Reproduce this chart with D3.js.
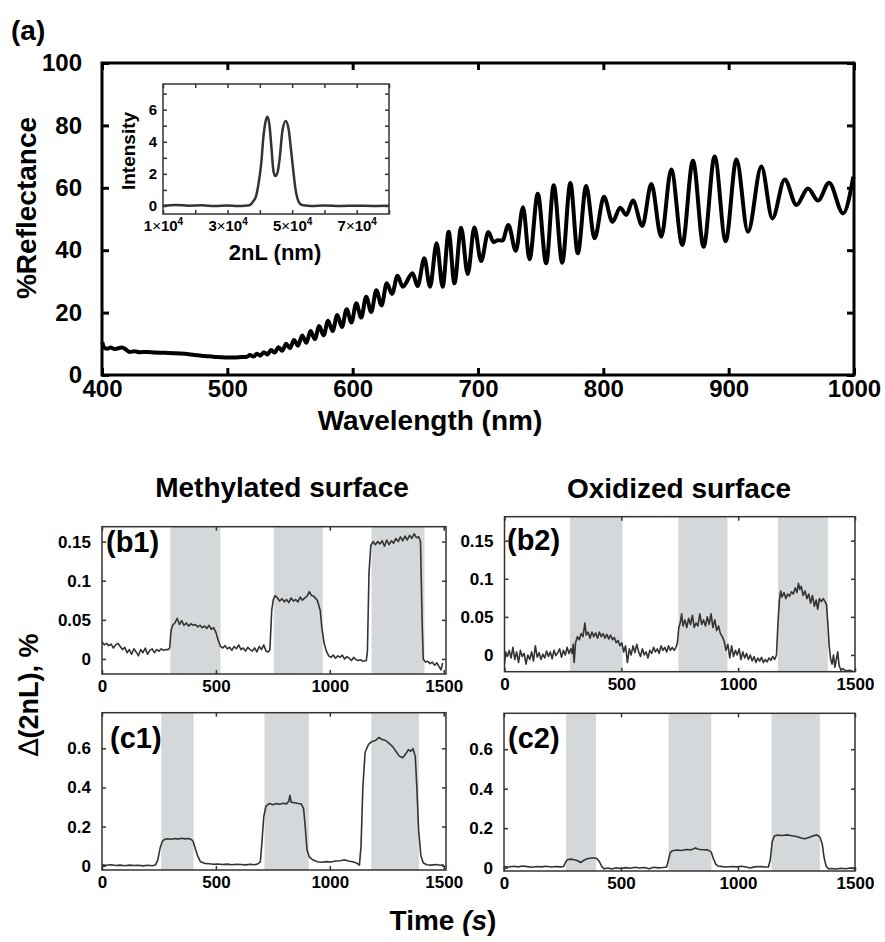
<!DOCTYPE html>
<html>
<head>
<meta charset="utf-8">
<script src="https://cdn.jsdelivr.net/npm/d3@7"></script>
<style>
  body { margin: 0; background: #fff; }
  svg { display: block; font-family: "Liberation Sans", Arial, sans-serif; font-weight: bold; }
</style>
</head>
<body>
<svg id="fig" width="885" height="942"></svg>
<script>
// ---- data ----
// (a) reflectance spectrum: [wavelength nm, %R] at the fringe extremes
const reflectance = [
  [400.3, 10.5], [401.5, 8.9], [404, 8.4], [407, 8.8], [410, 8.3], [413, 8.6], [416, 8.8], [419, 8.2],
  [422, 7.4], [426, 7.6], [430, 7.3], [436, 7.4], [442, 7.2], [450, 7.1], [458, 7.0], [466, 6.8],
  [474, 6.4], [482, 6.1], [490, 5.8], [498, 5.6], [506, 5.6], [512, 5.8], [515.3, 5.8], [518, 6.4],
  [520.8, 5.9], [523.5, 6.8], [526.3, 6.2], [529.1, 7.3], [532, 6.6], [534.9, 8.0], [537.8, 7.2],
  [540.8, 8.9], [543.8, 7.8], [546.9, 10.0], [550, 8.6], [553.2, 11.2], [556.4, 9.4], [559.7, 12.7],
  [563, 10.3], [566.4, 14.1], [569.8, 11.5], [573.3, 15.7], [576.8, 12.7], [580.4, 17.4], [584, 14.1],
  [587.7, 19.2], [591.4, 15.4], [595.2, 21.1], [599, 16.8], [602.9, 23.0], [606.8, 18.4], [610.8, 25.1],
  [614.8, 20.2], [618.9, 27.2], [623, 22.3], [627.2, 29.4], [631.4, 26.0], [635.8, 31.8], [639.9, 28.3],
  [647.8, 32.6], [651.8, 28.5], [657.2, 37.4], [661.7, 28.3], [667.0, 42.2], [671.8, 28.3], [676.6, 45.9],
  [681.2, 29.4], [686.5, 47.2], [691.8, 32.4], [697.1, 47.3], [702.5, 36.5], [708.2, 45.8], [712.5, 42.6],
  [716, 43.2], [719.5, 43.1], [724.2, 48.1], [730.2, 39.8], [735.9, 53.8], [741.1, 37.1], [747.7, 58.1],
  [754.4, 35.8], [760.4, 60.8], [767.2, 36.0], [773.7, 61.5], [779.6, 39.0], [786.3, 60.6], [793.0, 43.8],
  [800.5, 57.1], [807.3, 49.1], [813.5, 53.6], [818.3, 51.3], [823.6, 55.9], [831.1, 47.8], [838.3, 61.2],
  [846.2, 44.3], [854.2, 65.9], [863.0, 41.7], [871.5, 68.7], [880.0, 41.1], [888.8, 70.0], [897.6, 42.9],
  [906.2, 69.1], [915.4, 45.9], [926.1, 66.8], [934.9, 50.2], [944.7, 62.7], [954.1, 54.5], [963.3, 59.8],
  [971.3, 55.9], [980.1, 61.6], [991.3, 51.8], [999.5, 63.6]
];
const wlTicks = [400, 500, 600, 700, 800, 900, 1000];
const reflTicks = [0, 20, 40, 60, 80, 100];

// inset: FFT intensity vs 2nL
const fft = [
  [10000, 0.02], [14000, 0.06], [18000, 0.02], [22000, 0.04], [26000, 0.0], [30000, 0.03], [33000, 0.0],
  [35500, 0.02], [36800, 0.05], [38000, 0.3], [38800, 0.6], [39600, 1.4], [40400, 2.6], [41100, 4.3],
  [41800, 5.3], [42400, 5.56], [43000, 5.0], [43600, 3.6], [44200, 2.2], [44800, 1.86], [45500, 2.1],
  [46100, 2.9], [47000, 4.7], [48000, 5.3], [48900, 4.8], [49600, 3.6], [50300, 2.3], [51000, 1.1],
  [51600, 0.5], [52400, 0.15], [53500, 0.04], [56000, 0.0], [60000, 0.03], [65000, 0.0], [70000, 0.02],
  [75000, 0.0], [80000, 0.01]
];
const fftXTicks = [10000, 20000, 30000, 40000, 50000, 60000, 70000, 80000];
const fftXLabels = [10000, 30000, 50000, 70000];
const fftYTicks = [0, 1, 2, 3, 4, 5, 6, 7];
const fftYLabels = [0, 2, 4, 6];

// time traces: [t s, Δ(2nL) %]
const b1Trace = [
  [0,0.022],[10,0.018],[20,0.020],[30,0.017],[40,0.019],[50,0.014],[60,0.018],[70,0.020],[80,0.016],[90,0.012],
  [100,0.015],[110,0.008],[120,0.012],[130,0.006],[140,0.013],[150,0.009],[160,0.004],[170,0.012],[180,0.008],
  [190,0.014],[200,0.006],[210,0.011],[220,0.013],[230,0.008],[240,0.012],[250,0.010],[260,0.013],[270,0.011],
  [280,0.012],[290,0.012],[297,0.014],[303,0.036],[310,0.043],[320,0.046],[330,0.052],[340,0.044],[350,0.049],
  [360,0.043],[370,0.046],[380,0.042],[390,0.045],[400,0.043],[410,0.044],[420,0.041],[430,0.043],[440,0.040],
  [450,0.042],[460,0.039],[470,0.043],[480,0.038],[490,0.040],[500,0.034],[510,0.024],[520,0.016],[530,0.014],
  [540,0.017],[550,0.013],[560,0.015],[570,0.011],[580,0.016],[590,0.013],[600,0.018],[610,0.012],[620,0.014],
  [630,0.010],[640,0.015],[650,0.012],[660,0.010],[670,0.014],[680,0.009],[690,0.016],[700,0.012],[710,0.018],
  [720,0.010],[730,0.009],[737,0.012],[745,0.062],[752,0.076],[760,0.081],[770,0.078],[780,0.074],[790,0.077],
  [800,0.073],[810,0.076],[820,0.072],[830,0.078],[840,0.074],[850,0.076],[860,0.073],[870,0.079],[880,0.075],
  [890,0.078],[900,0.080],[910,0.086],[920,0.081],[930,0.080],[945,0.075],[958,0.062],[965,0.040],[975,0.020],
  [985,0.010],[995,0.004],[1005,0.002],[1015,0.005],[1025,0.001],[1035,0.004],[1045,0.002],[1055,0.005],
  [1065,0.000],[1075,0.003],[1085,0.001],[1095,-0.002],[1105,0.002],[1115,-0.001],[1125,-0.002],[1135,-0.001],
  [1145,-0.003],[1160,-0.002],[1165,0.010],[1172,0.110],[1180,0.145],[1190,0.150],[1200,0.146],[1210,0.150],
  [1220,0.147],[1230,0.151],[1240,0.144],[1250,0.152],[1260,0.146],[1270,0.151],[1280,0.148],[1290,0.154],
  [1300,0.150],[1310,0.156],[1320,0.151],[1330,0.157],[1340,0.152],[1350,0.158],[1360,0.154],[1370,0.160],
  [1380,0.155],[1390,0.156],[1398,0.150],[1405,0.050],[1410,0.000],[1420,-0.004],[1430,-0.003],[1440,-0.006],
  [1450,-0.004],[1460,-0.008],[1470,-0.005],[1480,-0.010],[1488,-0.014],[1495,-0.005]
];
const b2Trace = [
  [0,-0.012],[5,0.004],[12,-0.002],[20,0.006],[28,-0.004],[36,0.010],[44,-0.006],[52,0.004],[60,-0.010],
  [68,0.006],[76,-0.002],[84,0.002],[92,-0.012],[100,0.000],[108,-0.006],[116,0.004],[124,-0.008],[132,0.012],
  [140,-0.003],[148,0.003],[156,-0.006],[164,0.001],[172,-0.004],[180,0.005],[188,-0.002],[196,0.004],
  [204,-0.005],[212,0.006],[220,-0.001],[228,0.003],[236,0.008],[244,-0.003],[252,0.006],[260,0.000],
  [268,0.010],[276,0.002],[284,0.008],[290,0.002],[294,0.014],[298,-0.010],[304,0.016],[312,0.024],
  [320,0.020],[328,0.028],[336,0.024],[344,0.042],[350,0.026],[358,0.030],[366,0.022],[374,0.030],
  [382,0.024],[390,0.029],[398,0.022],[406,0.030],[414,0.024],[422,0.028],[430,0.022],[438,0.027],
  [446,0.021],[454,0.026],[462,0.020],[470,0.023],[478,0.016],[486,0.019],[494,0.012],[502,0.016],
  [510,0.004],[518,0.012],[526,-0.010],[534,0.008],[542,0.000],[550,0.012],[558,0.003],[566,0.014],
  [574,0.004],[582,-0.002],[590,0.008],[598,0.000],[606,0.004],[614,-0.004],[622,0.006],[630,0.002],
  [638,0.010],[646,0.004],[654,0.008],[662,0.002],[670,0.012],[678,0.006],[686,0.010],[694,0.004],
  [702,0.012],[710,0.006],[718,0.010],[726,0.006],[734,0.010],[740,0.016],[746,0.036],[752,0.042],
  [758,0.054],[764,0.038],[772,0.046],[780,0.036],[788,0.048],[796,0.040],[804,0.052],[812,0.036],
  [820,0.042],[828,0.038],[836,0.054],[844,0.040],[852,0.046],[860,0.038],[868,0.050],[876,0.040],
  [884,0.054],[892,0.036],[900,0.046],[908,0.032],[916,0.038],[924,0.028],[932,0.024],[940,0.018],
  [948,0.006],[956,0.014],[964,-0.004],[972,0.012],[980,-0.002],[988,0.006],[996,0.000],[1004,0.008],
  [1012,-0.006],[1020,0.004],[1028,-0.004],[1036,0.002],[1044,-0.006],[1052,0.000],[1060,-0.008],
  [1068,-0.002],[1076,-0.010],[1084,-0.004],[1092,-0.008],[1100,-0.003],[1108,-0.010],[1116,-0.006],
  [1124,-0.009],[1132,-0.004],[1140,-0.007],[1148,-0.002],[1156,-0.006],[1164,0.000],[1170,0.040],
  [1176,0.070],[1182,0.084],[1188,0.076],[1196,0.082],[1204,0.074],[1212,0.080],[1220,0.077],[1228,0.083],
  [1236,0.080],[1244,0.088],[1252,0.082],[1258,0.094],[1264,0.086],[1270,0.090],[1278,0.078],[1286,0.084],
  [1294,0.074],[1302,0.080],[1310,0.068],[1318,0.078],[1326,0.064],[1334,0.072],[1340,0.060],[1348,0.074],
  [1356,0.070],[1364,0.074],[1372,0.070],[1378,0.066],[1384,0.040],[1390,0.010],[1396,-0.006],[1402,-0.012],
  [1408,0.000],[1414,-0.016],[1420,-0.006],[1426,0.004],[1432,-0.014],[1440,-0.020],[1448,-0.018],
  [1460,-0.021],[1475,-0.020],[1490,-0.021]
];
const c1Trace = [
  [0,0.004],[20,0.002],[40,0.005],[60,0.001],[80,0.003],[100,0.000],[120,0.003],[140,0.001],[160,0.002],
  [180,-0.001],[200,0.002],[220,0.000],[235,0.004],[245,0.030],[255,0.090],[265,0.125],[275,0.135],
  [290,0.138],[305,0.135],[320,0.139],[335,0.136],[350,0.140],[365,0.137],[380,0.139],[392,0.134],
  [400,0.125],[410,0.085],[420,0.050],[432,0.020],[450,0.012],[470,0.010],[490,0.007],[510,0.009],
  [530,0.006],[550,0.008],[570,0.005],[590,0.007],[610,0.006],[630,0.004],[650,0.007],[670,0.005],
  [685,0.010],[695,0.020],[702,0.120],[710,0.250],[720,0.305],[735,0.318],[750,0.312],[765,0.318],
  [780,0.314],[795,0.319],[810,0.316],[820,0.330],[825,0.360],[830,0.325],[845,0.322],[860,0.318],
  [875,0.315],[885,0.290],[892,0.200],[900,0.080],[910,0.045],[925,0.030],[945,0.020],[965,0.018],
  [985,0.021],[1005,0.019],[1025,0.024],[1045,0.025],[1065,0.030],[1080,0.024],[1100,0.020],[1120,0.012],
  [1130,0.003],[1137,0.100],[1145,0.400],[1155,0.580],[1170,0.620],[1185,0.635],[1200,0.640],[1215,0.655],
  [1230,0.645],[1245,0.640],[1260,0.625],[1275,0.610],[1290,0.585],[1305,0.560],[1320,0.552],[1335,0.575],
  [1345,0.593],[1355,0.585],[1365,0.598],[1375,0.560],[1382,0.400],[1390,0.180],[1400,0.050],[1410,0.015],
  [1425,0.005],[1445,0.003],[1465,0.006],[1485,0.002],[1500,0.004]
];
const c2Trace = [
  [0,0.006],[20,0.003],[40,0.007],[60,0.004],[80,0.008],[100,0.005],[120,0.002],[140,0.006],[160,0.004],
  [180,0.007],[200,0.003],[220,0.006],[240,0.004],[255,0.006],[262,0.025],[270,0.040],[285,0.043],
  [300,0.040],[315,0.035],[327,0.026],[340,0.036],[355,0.045],[370,0.048],[385,0.050],[398,0.045],
  [408,0.030],[418,0.005],[428,-0.006],[445,-0.002],[460,-0.007],[480,-0.001],[500,-0.004],[520,0.000],
  [540,-0.003],[560,0.002],[580,-0.002],[600,0.001],[620,-0.006],[640,0.002],[660,-0.001],[680,0.001],
  [695,0.003],[702,0.035],[710,0.075],[720,0.086],[740,0.089],[760,0.087],[780,0.092],[800,0.090],
  [818,0.100],[830,0.093],[850,0.091],[870,0.090],[885,0.080],[895,0.045],[905,0.018],[915,0.008],
  [935,0.005],[955,0.003],[975,0.006],[995,0.004],[1015,0.007],[1035,0.003],[1052,-0.002],[1070,0.004],
  [1090,0.006],[1110,0.004],[1130,0.003],[1138,0.040],[1146,0.130],[1155,0.160],[1170,0.165],[1190,0.163],
  [1210,0.166],[1230,0.162],[1250,0.158],[1270,0.150],[1285,0.146],[1300,0.152],[1320,0.160],[1337,0.166],
  [1350,0.155],[1360,0.120],[1368,0.050],[1376,0.010],[1386,-0.006],[1400,-0.004],[1420,-0.007],
  [1440,-0.003],[1460,-0.006],[1480,-0.002],[1500,-0.005]
];
// grey bands (s) while the vapour is on
const b1Bands = [[300, 520], [754, 969], [1183, 1416]];
const b2Bands = [[280, 505], [744, 954], [1170, 1384]];
const c1Bands = [[260, 402], [713, 908], [1182, 1391]];
const c2Bands = [[265, 393], [703, 886], [1143, 1350]];
const timeTicks = [0, 500, 1000, 1500];
const bTicks = [0, 0.05, 0.1, 0.15];
const cTicks = [0, 0.2, 0.4, 0.6];

const svg = d3.select('#fig');

// inward ticks on all four sides, labels only bottom/left
function frameAxes(g, x, y, o) {
  const [x0, x1] = x.range(), [y0, y1] = y.range();
  g.append('g').attr('transform', `translate(0,${y0})`)
    .call(d3.axisBottom(x).tickValues(o.xTicks).tickSize(-o.tick).tickPadding(o.xPad)
      .tickFormat(o.xFmt || (d => d)));
  g.append('g').attr('transform', `translate(0,${y1})`)
    .call(d3.axisTop(x).tickValues(o.xTicks).tickSize(-o.tick).tickFormat(''));
  g.append('g').attr('transform', `translate(${x0},0)`)
    .call(d3.axisLeft(y).tickValues(o.yTicks).tickSize(-o.tick).tickPadding(o.yPad)
      .tickFormat(o.yFmt || (d => d)));
  g.append('g').attr('transform', `translate(${x1},0)`)
    .call(d3.axisRight(y).tickValues(o.yTicks).tickSize(-o.tick).tickFormat(''));
  g.selectAll('.domain').remove();
  g.selectAll('.tick line').attr('stroke', o.color).attr('stroke-width', o.tickW);
  g.selectAll('.tick text').attr('fill', '#000').attr('font-size', o.fs)
    .attr('font-family', '"Liberation Sans", Arial, sans-serif').attr('font-weight', 'bold');
  g.append('rect')
    .attr('x', x0).attr('y', y1).attr('width', x1 - x0).attr('height', y0 - y1)
    .attr('fill', 'none').attr('stroke', o.color).attr('stroke-width', o.frameW);
}

// ---- (a) main spectrum ----
const mx = d3.scaleLinear().domain([400, 1000]).range([102, 854]);
const my = d3.scaleLinear().domain([0, 100]).range([375, 63]);
const gMain = svg.append('g');
frameAxes(gMain, mx, my, {xTicks: wlTicks, yTicks: reflTicks, tick: 7, tickW: 3, xPad: 5, yPad: 20,
  fs: 24, color: '#000', frameW: 3});
gMain.append('path')
  .datum(reflectance)
  .attr('fill', 'none').attr('stroke', '#000').attr('stroke-width', 4).attr('stroke-linejoin', 'round')
  .attr('d', d3.line().x(d => mx(d[0])).y(d => my(d[1])).curve(d3.curveMonotoneX));

svg.append('text').attr('x', 11).attr('y', 40).attr('font-size', 28).text('(a)');
svg.append('text').attr('transform', 'translate(36,208) rotate(-90)')
  .attr('text-anchor', 'middle').attr('font-size', 28).text('%Reflectance');
svg.append('text').attr('x', 430).attr('y', 430)
  .attr('text-anchor', 'middle').attr('font-size', 28).text('Wavelength (nm)');

// ---- inset ----
const ix = d3.scaleLinear().domain([10000, 80000]).range([163, 389]);
const iy = d3.scaleLinear().domain([-0.5, 7.6]).range([214, 84]);
const gIn = svg.append('g');
gIn.append('rect').attr('x', 163).attr('y', 84).attr('width', 226).attr('height', 130).attr('fill', '#fff');
frameAxes(gIn, ix, iy, {xTicks: fftXTicks, yTicks: fftYTicks, tick: 4, tickW: 1.5, xPad: 6, yPad: 6,
  fs: 15, color: '#333', frameW: 1.5,
  xFmt: d => fftXLabels.includes(d) ? d : '',
  yFmt: d => fftYLabels.includes(d) ? d : ''});
// 1x10^4 style labels
gIn.selectAll('.tick text').filter(function (d) { return d >= 10000 && d3.select(this).text() !== ''; })
  .each(function (d) {
    const t = d3.select(this).text(null);
    t.append('tspan').text(d / 10000);
    t.append('tspan').attr('font-weight', 'normal').text('×');
    t.append('tspan').text('10');
    t.append('tspan').attr('font-size', 10).attr('dy', '-0.6em').text('4');
  });
gIn.append('path')
  .datum(fft)
  .attr('fill', 'none').attr('stroke', '#333').attr('stroke-width', 2.5)
  .attr('d', d3.line().x(d => ix(d[0])).y(d => iy(d[1])).curve(d3.curveMonotoneX));
svg.append('text').attr('transform', 'translate(135,151) rotate(-90)')
  .attr('text-anchor', 'middle').attr('font-size', 19).text('Intensity');
svg.append('text').attr('x', 275).attr('y', 260)
  .attr('text-anchor', 'middle').attr('font-size', 22).text('2nL (nm)');

// ---- time-trace panels ----
const panels = [
  {id: 'b1', trace: b1Trace, bands: b1Bands, ticks: bTicks, x: [0, 1510], xr: [102, 446],
   y: [-0.0192, 0.169], yr: [674, 526.7], lx: 106, ly: 552},
  {id: 'b2', trace: b2Trace, bands: b2Bands, ticks: bTicks, x: [0, 1500], xr: [504.5, 855],
   y: [-0.022, 0.1815], yr: [671.7, 516.7], lx: 507, ly: 550},
  {id: 'c1', trace: c1Trace, bands: c1Bands, ticks: cTicks, x: [0, 1510], xr: [102, 446],
   y: [-0.022, 0.782], yr: [870, 712.7], lx: 110, ly: 748},
  {id: 'c2', trace: c2Trace, bands: c2Bands, ticks: cTicks, x: [0, 1500], xr: [504, 855],
   y: [-0.017, 0.782], yr: [871, 713.3], lx: 508, ly: 748}
];

panels.forEach(p => {
  const x = d3.scaleLinear().domain(p.x).range(p.xr);
  const y = d3.scaleLinear().domain(p.y).range(p.yr);
  const g = svg.append('g');
  g.append('clipPath').attr('id', 'clip-' + p.id).append('rect')
    .attr('x', p.xr[0]).attr('y', p.yr[1]).attr('width', p.xr[1] - p.xr[0]).attr('height', p.yr[0] - p.yr[1]);
  g.selectAll('.band')
    .data(p.bands)
    .enter()
    .append('rect')
    .attr('class', 'band')
    .attr('x', d => x(d[0])).attr('width', d => x(d[1]) - x(d[0]))
    .attr('y', p.yr[1]).attr('height', p.yr[0] - p.yr[1])
    .attr('fill', '#d5d8da');
  g.append('path')
    .datum(p.trace)
    .attr('clip-path', `url(#clip-${p.id})`)
    .attr('fill', 'none').attr('stroke', '#333').attr('stroke-width', 1.6).attr('stroke-linejoin', 'round')
    .attr('d', d3.line().x(d => x(d[0])).y(d => y(d[1])));
  frameAxes(g, x, y, {xTicks: timeTicks, yTicks: p.ticks, tick: 4, tickW: 1.5, xPad: 6, yPad: 11,
    fs: 17, color: '#333', frameW: 1.5});
  g.append('text').attr('x', p.lx).attr('y', p.ly).attr('font-size', 29).text(`(${p.id})`);
});

svg.append('text').attr('x', 282).attr('y', 497).attr('text-anchor', 'middle').attr('font-size', 28)
  .text('Methylated surface');
svg.append('text').attr('x', 679).attr('y', 498).attr('text-anchor', 'middle').attr('font-size', 28)
  .text('Oxidized surface');

const yl = svg.append('text').attr('transform', 'translate(38,695) rotate(-90)')
  .attr('text-anchor', 'middle').attr('font-size', 27);
yl.append('tspan').attr('font-weight', 'normal').attr('font-family', '"DejaVu Sans", sans-serif').text('∆');
yl.append('tspan').text('(2nL), %');

const tl = svg.append('text').attr('x', 443).attr('y', 930).attr('text-anchor', 'middle').attr('font-size', 28);
tl.append('tspan').text('Time ');
tl.append('tspan').attr('font-style', 'italic').text('(s');
tl.append('tspan').text(')');
</script>
</body>
</html>
